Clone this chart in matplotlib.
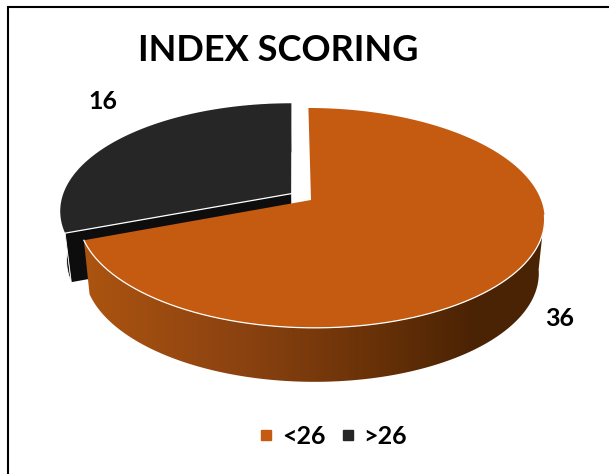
import numpy as np
import matplotlib
matplotlib.use("Agg")
import matplotlib.pyplot as plt
from matplotlib.colors import LinearSegmentedColormap
from matplotlib.lines import Line2D
from matplotlib.patches import Polygon

plt.rcParams["font.family"] = ["Lato", "DejaVu Sans"]

# ----------------------------
# Data
# ----------------------------

title = "INDEX SCORING"
labels = ["<26", ">26"]
values = [36, 16]
explode = [0.0, 0.105]
colors = ["#C55A11", "#262626"]
side_colors = ["#C55A11", "#0D0D0D"]

# ----------------------------
# Fake 3D projection (screen pixels, y down)
# ----------------------------

CX, CY = 311, 200
RX, RY = 230, 107
PERSP = 0.163
SKEW = 3.0
DEPTHS = [54, 49]
BOTTOM_SCALE = 0.975


def project(u, v):
    w = 1 + PERSP * v
    return CX + (RX * u - SKEW * v) / w, CY - RY * v / w


def wedge_top(start, end, shift):
    """Outline of a slice on the pie plane, angles clockwise from 12 o'clock."""
    t = np.linspace(start, end, 240)
    u = np.sin(t) + shift[0]
    v = np.cos(t) + shift[1]
    return project(u, v)


def lower(x, y, depth):
    return CX + (np.asarray(x) - CX) * BOTTOM_SCALE, np.asarray(y) + depth


fig = plt.figure(figsize=(6.09, 4.74), dpi=100)
ax = fig.add_axes([0, 0, 1, 1])
ax.set_xlim(0, 609)
ax.set_ylim(474, 0)
ax.axis("off")

# chart frame, only left and top survive in the crop
ax.plot([8, 8, 609], [474, 7, 7], color="black", lw=1.5, solid_joinstyle="miter")

angles = np.cumsum([0] + values) / sum(values) * 2 * np.pi

# dark slice goes first, the big one sits in front of it
for i in [1, 0]:
    a0, a1 = angles[i], angles[i + 1]
    mid = (a0 + a1) / 2
    shift = (explode[i] * np.sin(mid), explode[i] * np.cos(mid))
    apex = project(shift[0], shift[1])
    rim_x, rim_y = wedge_top(a0, a1, shift)

    if i == 1:
        # cut face and outer sliver of the exploded slice
        bx, by = lower(rim_x, rim_y, DEPTHS[i])
        ax.fill(np.r_[rim_x, bx[::-1]], np.r_[rim_y, by[::-1]],
                color="#1A1A1A", ec="white", lw=0.6, zorder=1)
        ax_, ay_ = lower([apex[0]], [apex[1]], DEPTHS[i])
        ax.fill([rim_x[0], apex[0], ax_[0], bx[0]], [rim_y[0], apex[1], ay_[0], by[0]],
                color=side_colors[i], lw=0, zorder=2)
        ax.plot([rim_x[0], bx[0]], [rim_y[0], by[0]], color="white", lw=0.6, zorder=2)
    else:
        # outer wall with horizontal shading
        keep = rim_y > CY + 14
        wx, wy = rim_x[keep], rim_y[keep]
        bx, by = lower(wx, wy, DEPTHS[i])
        wall = Polygon(np.c_[np.r_[wx, bx[::-1]], np.r_[wy, by[::-1]]],
                       closed=True, fc="none", ec="none", zorder=3)
        ax.add_patch(wall)
        shade = LinearSegmentedColormap.from_list(
            "shade", [(0, "#AC5410"), (0.35, "#8A4210"), (0.62, "#6A3208"),
                      (0.85, "#4A2304"), (1, "#4A2304")])
        grad = ax.imshow(np.linspace(0, 1, 256)[None, :], cmap=shade, aspect="auto",
                         extent=[84, 545, 400, 220], zorder=3)
        grad.set_clip_path(wall)
        ax.set_xlim(0, 609)
        ax.set_ylim(474, 0)

    ax.fill(np.r_[apex[0], rim_x], np.r_[apex[1], rim_y], color=colors[i], lw=0, zorder=4)

    if i == 1:
        ax.plot([apex[0], rim_x[0]], [apex[1], rim_y[0]], color="white", lw=0.9, zorder=5)
    else:
        keep = rim_y > CY + 14
        ax.plot(rim_x[keep], rim_y[keep], color="white", lw=0.9, zorder=5)

# ----------------------------
# Text
# ----------------------------

ax.text(278, 50, title, ha="center", va="center", fontsize=26, fontweight="bold",
        color="black")
ax.text(102.5, 101, str(values[1]), ha="center", va="center", fontsize=18, fontweight="bold")
ax.text(560, 318, str(values[0]), ha="center", va="center", fontsize=18, fontweight="bold")

handles = [Line2D([], [], ls="none", marker="s", ms=6.5, color=c) for c in colors]
ax.legend(handles, labels, loc="center", bbox_to_anchor=(333, 436),
          bbox_transform=ax.transData, ncol=2, frameon=False,
          prop={"size": 18, "weight": "bold"}, handlelength=0.6, handletextpad=0.34,
          columnspacing=0.58)

fig.savefig("out.png", dpi=100)
